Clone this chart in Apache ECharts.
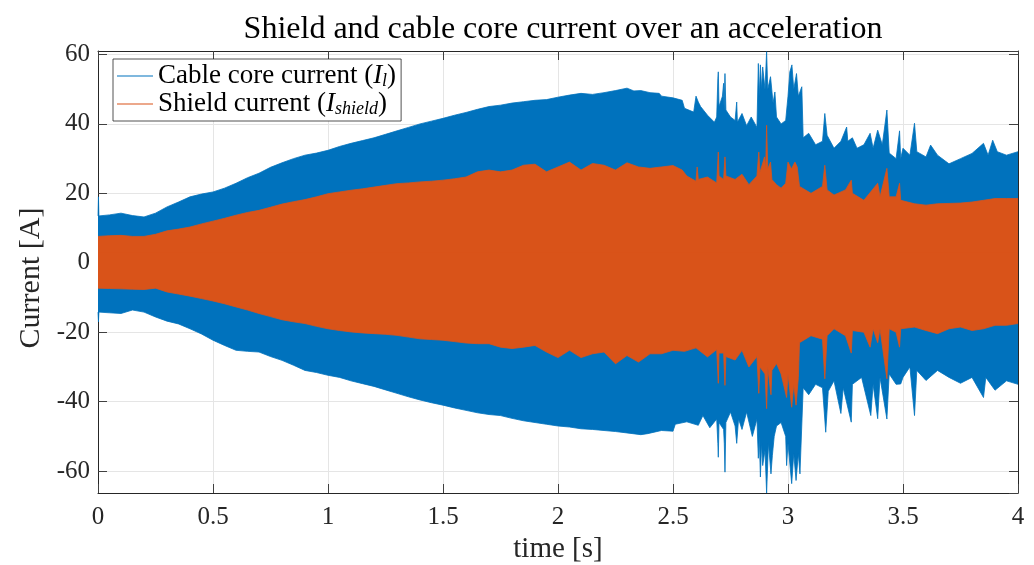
<!DOCTYPE html>
<html>
<head>
<meta charset="utf-8">
<script src="https://cdn.jsdelivr.net/npm/echarts@6/dist/echarts.min.js"></script>
<style>
html,body{margin:0;padding:0;background:#fff;}
#c{width:1034px;height:565px;}
</style>
</head>
<body>
<div id="c"></div>
<script>
// ---- data (time [s], current [A]) ----
var xTicks = [0, 0.5, 1, 1.5, 2, 2.5, 3, 3.5, 4];
var yTicks = [-60, -40, -20, 0, 20, 40, 60];

var blueUpper = [[0,13.5],[0.002,19],[0.004,13.5],[0.05,13.8],[0.1,14.3],[0.15,13.6],[0.2,13.2],[0.25,14.3],[0.3,16.1],[0.35,17.5],[0.4,19],[0.45,19.8],[0.5,20.4],[0.55,21.5],[0.6,22.9],[0.65,24.5],[0.7,25.8],[0.75,27.5],[0.8,28.8],[0.85,30],[0.9,31],[0.95,31.6],[1.0,32.4],[1.05,33.5],[1.1,34.4],[1.15,35.2],[1.2,36],[1.25,37],[1.3,38],[1.35,39],[1.4,40],[1.45,40.8],[1.5,41.6],[1.55,42.5],[1.6,43.3],[1.65,44.2],[1.7,45],[1.75,45.4],[1.8,46],[1.85,46.4],[1.9,46.8],[1.95,47],[2.0,47.7],[2.05,48.3],[2.1,48.8],[2.15,48.5],[2.2,49],[2.25,49.6],[2.3,50.3],[2.33,49.5],[2.36,49.6],[2.4,49],[2.44,48.8],[2.45,48],[2.5,47.5],[2.54,46.8],[2.55,44.5],[2.59,43.4],[2.6,48],[2.61,46.3],[2.62,45],[2.65,42.5],[2.68,40.5],[2.69,42],[2.695,53],[2.697,55],[2.70,45],[2.715,48],[2.72,51.7],[2.722,44],[2.726,54.5],[2.73,44],[2.75,42],[2.77,41],[2.777,46.3],[2.78,40.5],[2.8,43],[2.82,39.5],[2.84,42],[2.865,39],[2.871,57.4],[2.875,48],[2.88,57],[2.885,50],[2.89,56.4],[2.9,50],[2.907,60.8],[2.912,50],[2.924,53.6],[2.935,46],[2.943,49.2],[2.95,42],[2.97,40],[2.99,41],[3.0,48],[3.008,55],[3.017,57],[3.025,50],[3.037,54.5],[3.045,48],[3.06,50.7],[3.066,36],[3.09,37.3],[3.12,34],[3.15,35],[3.16,43],[3.17,36.7],[3.2,33],[3.23,35],[3.255,39.1],[3.26,35],[3.28,36],[3.3,33],[3.33,34],[3.357,37.3],[3.37,33],[3.39,38.2],[3.41,34],[3.43,44],[3.44,31.6],[3.47,30],[3.485,38],[3.49,30],[3.5,33],[3.53,31],[3.55,40.2],[3.56,32],[3.6,30.5],[3.62,33.9],[3.65,31],[3.7,28.5],[3.75,30],[3.8,31.5],[3.85,34.4],[3.87,31],[3.89,35.3],[3.91,32],[3.95,31],[4.0,32]];

var blueLower = [[0,-14.2],[0.002,-17],[0.004,-14.2],[0.05,-14.4],[0.1,-14.6],[0.15,-13.6],[0.2,-14.2],[0.25,-15.6],[0.3,-16.8],[0.35,-17.6],[0.4,-19],[0.45,-20.5],[0.5,-22.3],[0.55,-23.8],[0.6,-25.2],[0.65,-25.5],[0.7,-25.7],[0.75,-27],[0.8,-28.1],[0.85,-29.5],[0.9,-31],[0.95,-31.6],[1.0,-32.4],[1.05,-33],[1.1,-34],[1.15,-34.8],[1.2,-35.6],[1.25,-36.6],[1.3,-37.6],[1.35,-38.6],[1.4,-39.5],[1.45,-40.3],[1.5,-41],[1.55,-41.8],[1.6,-42.5],[1.65,-43.2],[1.7,-43.7],[1.75,-44],[1.8,-44.8],[1.85,-45.5],[1.9,-46],[1.95,-46.5],[2.0,-47],[2.05,-47.3],[2.1,-47.8],[2.15,-48],[2.2,-48.3],[2.25,-48.6],[2.3,-49],[2.36,-49.5],[2.39,-49.2],[2.45,-48.3],[2.5,-48.5],[2.51,-46.5],[2.56,-45.8],[2.61,-46.8],[2.63,-44],[2.66,-47.5],[2.69,-45],[2.695,-52],[2.697,-56],[2.70,-46],[2.72,-48],[2.723,-52],[2.726,-60.3],[2.73,-46],[2.75,-43],[2.77,-47],[2.777,-52],[2.785,-45],[2.8,-48],[2.82,-43],[2.845,-50],[2.865,-45],[2.871,-56.3],[2.875,-50],[2.88,-61.7],[2.885,-52],[2.89,-58.4],[2.9,-54],[2.907,-66.3],[2.915,-52],[2.926,-60.8],[2.932,-55.5],[2.94,-50],[2.95,-47],[2.97,-46],[2.99,-50],[2.994,-58.4],[3.0,-52],[3.016,-63.6],[3.025,-55],[3.035,-62.7],[3.045,-55],[3.052,-60.8],[3.066,-36],[3.09,-38],[3.12,-35],[3.15,-36],[3.164,-48.8],[3.175,-37],[3.2,-34],[3.23,-43.4],[3.24,-36],[3.275,-45.9],[3.28,-35],[3.32,-33],[3.36,-44],[3.37,-35],[3.39,-44.9],[3.4,-33],[3.43,-45],[3.44,-32],[3.47,-35],[3.49,-34.9],[3.5,-33],[3.53,-30],[3.55,-44],[3.56,-31],[3.6,-33.9],[3.65,-31],[3.7,-33],[3.75,-34.7],[3.8,-33],[3.85,-38.8],[3.86,-33],[3.9,-36.7],[3.95,-34],[4.0,-35]];

var orangeUpper = [[0,7.6],[0.05,7.8],[0.1,7.9],[0.15,7.6],[0.2,7.6],[0.25,8.2],[0.3,9.2],[0.35,9.7],[0.4,10.3],[0.45,11.2],[0.5,12],[0.55,12.8],[0.6,13.7],[0.65,14.5],[0.7,15.1],[0.75,16],[0.8,16.9],[0.85,17.6],[0.9,18.2],[0.95,19],[1.0,19.9],[1.05,20.4],[1.1,20.9],[1.15,21.3],[1.2,21.8],[1.25,22.3],[1.3,22.8],[1.35,23],[1.4,23.3],[1.45,23.5],[1.5,23.8],[1.55,24.2],[1.6,24.7],[1.65,26.2],[1.7,26.7],[1.75,26.2],[1.8,26.7],[1.85,28.1],[1.9,28.4],[1.95,26.2],[2.0,27.6],[2.05,29],[2.1,26.7],[2.15,28.6],[2.2,28.1],[2.25,26.7],[2.3,28.8],[2.35,27.6],[2.4,27.2],[2.45,27.6],[2.5,28],[2.54,26.7],[2.56,25],[2.6,23.5],[2.605,27.6],[2.61,24],[2.65,24.7],[2.69,23],[2.697,31.9],[2.70,25],[2.72,24],[2.726,30.5],[2.73,25],[2.77,24],[2.8,25.5],[2.83,22.5],[2.865,25],[2.873,31.9],[2.878,26],[2.898,30.5],[2.903,27],[2.907,39.6],[2.912,27],[2.924,29],[2.93,24],[2.95,22.5],[2.97,21.5],[2.99,22.9],[3.0,29],[3.015,27],[3.03,29],[3.04,27.6],[3.05,22],[3.1,20],[3.15,22],[3.16,28.1],[3.17,21],[3.2,19.5],[3.25,21],[3.275,23.8],[3.28,20],[3.33,18],[3.39,22.9],[3.4,19],[3.43,27.2],[3.44,19],[3.47,19],[3.485,22.9],[3.49,18],[3.55,17],[3.6,16.6],[3.65,17],[3.7,17.1],[3.75,17.2],[3.8,17.5],[3.85,18],[3.9,18.5],[3.95,18.5],[4.0,18.5]];

var orangeLower = [[0,-7.3],[0.05,-7.4],[0.1,-7.5],[0.15,-7.6],[0.2,-7.7],[0.25,-7.3],[0.3,-8.4],[0.35,-9],[0.4,-9.6],[0.45,-10.3],[0.5,-11],[0.55,-11.8],[0.6,-12.7],[0.65,-13.6],[0.7,-14.6],[0.75,-15.5],[0.8,-16.4],[0.85,-17],[0.9,-17.5],[0.95,-18.3],[1.0,-19],[1.05,-19.5],[1.1,-19.9],[1.15,-20.2],[1.2,-20.4],[1.25,-20.6],[1.3,-20.9],[1.35,-21.4],[1.4,-21.9],[1.45,-22.1],[1.5,-22.3],[1.55,-22.7],[1.6,-23.1],[1.65,-23.3],[1.7,-23.3],[1.75,-24.3],[1.8,-24.7],[1.85,-24.3],[1.9,-23.8],[1.95,-25.7],[2.0,-27.3],[2.05,-25.2],[2.1,-27.3],[2.15,-26.2],[2.2,-25.7],[2.25,-29.1],[2.3,-26.7],[2.35,-28.6],[2.4,-26.2],[2.45,-26.2],[2.5,-25.2],[2.55,-25.5],[2.6,-24.5],[2.65,-27.1],[2.69,-25],[2.697,-34.7],[2.70,-26],[2.72,-26],[2.726,-35.3],[2.73,-27],[2.77,-28],[2.8,-25.2],[2.83,-30],[2.865,-27],[2.873,-37.6],[2.878,-30],[2.9,-32],[2.907,-42],[2.912,-30],[2.926,-38],[2.93,-31],[2.95,-29],[2.97,-32],[2.994,-38.8],[3.0,-32],[3.016,-41.6],[3.025,-35],[3.035,-41],[3.045,-33],[3.05,-23],[3.1,-21],[3.15,-22],[3.16,-33.4],[3.17,-21],[3.2,-19],[3.25,-21],[3.275,-26],[3.28,-19.5],[3.33,-20],[3.357,-24.3],[3.37,-19],[3.39,-23],[3.4,-19],[3.43,-33.4],[3.44,-19],[3.47,-20],[3.485,-24.3],[3.49,-19],[3.55,-18.5],[3.6,-19.5],[3.65,-20.4],[3.7,-19],[3.75,-18.5],[3.8,-19.5],[3.85,-19],[3.9,-18],[3.95,-18],[4.0,-17.5]];

var seriesNames = ['Cable core current', 'Shield current'];
var BLUE = '#0072BD', ORANGE = '#D95319';

// ---- chart ----
var FONT = 'Liberation Serif';
var TXT = '#262626';
var chart = echarts.init(document.getElementById('c'), null, {renderer: 'canvas'});

// upper halves fill down past zero and lower halves fill up past zero,
// so the two halves of each band overlap and leave no seam at 0
function bandSeries(name, data, color, z, origin) {
  return {
    name: name, type: 'line', data: data,
    xAxisIndex: 0, yAxisIndex: 0,
    showSymbol: false, symbol: 'none', silent: true, animation: false,
    lineStyle: {color: color, width: 0.8},
    itemStyle: {color: color},
    areaStyle: {color: color, opacity: 1, origin: origin},
    z: z
  };
}

var axisCommonX = {type: 'value', min: 0, max: 4, interval: 0.5};

var option = {
  backgroundColor: '#fff',
  animation: false,
  title: {
    text: 'Shield and cable core current over an acceleration',
    left: 558, top: 9, textAlign: 'center',
    textStyle: {fontFamily: FONT, fontSize: 32, fontWeight: 'normal', color: '#000'}
  },
  legend: {
    orient: 'vertical', left: 113, top: 59,
    backgroundColor: '#fff',
    borderColor: '#262626', borderWidth: 0.8, borderRadius: 0,
    padding: [3, 5, 3, 4], itemGap: 0,
    itemWidth: 36, itemHeight: 1.2,
    data: [
      {name: seriesNames[0], icon: 'rect', itemStyle: {color: BLUE}},
      {name: seriesNames[1], icon: 'rect', itemStyle: {color: ORANGE}}
    ],
    formatter: function (n) {
      return n === seriesNames[0] ? 'Cable core current ({i|I}{s|l})' : 'Shield current ({i|I}{s|shield})';
    },
    textStyle: {
      fontFamily: FONT, fontSize: 27, color: '#000', lineHeight: 28,
      rich: {
        i: {fontFamily: FONT, fontSize: 27, fontStyle: 'italic', color: '#000', lineHeight: 28},
        s: {fontFamily: FONT, fontSize: 18, fontStyle: 'italic', color: '#000', lineHeight: 18, verticalAlign: 'bottom'}
      }
    },
    z: 20
  },
  grid: {left: 98, right: 16, top: 51, bottom: 72, containLabel: false, outerBoundsMode: 'none'},
  xAxis: [
    Object.assign({}, axisCommonX, {
      position: 'bottom',
      name: 'time [s]', nameLocation: 'middle', nameGap: 38,
      nameTextStyle: {fontFamily: FONT, fontSize: 29, color: TXT},
      axisLine: {show: true, onZero: false, lineStyle: {color: '#262626', width: 1}},
      axisTick: {show: true, inside: true, length: 9, lineStyle: {color: '#404040', width: 1}},
      axisLabel: {show: true, margin: 12, fontFamily: FONT, fontSize: 25, color: TXT,
        formatter: function (v) { return xTicks.indexOf(v) >= 0 ? String(v) : ''; }},
      splitLine: {show: true, lineStyle: {color: '#e5e5e5', width: 1}}
    }),
    Object.assign({}, axisCommonX, {
      position: 'top',
      axisLine: {show: true, onZero: false, lineStyle: {color: '#262626', width: 1}},
      axisTick: {show: true, inside: true, length: 9, lineStyle: {color: '#404040', width: 1}},
      axisLabel: {show: false},
      splitLine: {show: false}
    })
  ],
  yAxis: [
    {
      type: 'value', min: -66.3, max: 61, splitNumber: 6, position: 'left',
      name: 'Current [A]', nameLocation: 'middle', nameGap: 50, nameRotate: 90,
      nameTextStyle: {fontFamily: FONT, fontSize: 30, color: TXT, padding: [0, 12, 0, 0]},
      axisLine: {show: true, onZero: false, lineStyle: {color: '#262626', width: 1}},
      axisTick: {show: true, inside: true, length: 9, lineStyle: {color: '#404040', width: 1}},
      axisLabel: {show: true, margin: 8, fontFamily: FONT, fontSize: 25, color: TXT,
        showMinLabel: false, showMaxLabel: false,
        formatter: function (v) { return yTicks.indexOf(v) >= 0 ? String(v) : ''; }},
      splitLine: {show: true, lineStyle: {color: '#e5e5e5', width: 1}}
    },
    {
      type: 'value', min: -66.3, max: 61, splitNumber: 6, position: 'right',
      axisLine: {show: true, onZero: false, lineStyle: {color: '#262626', width: 1}},
      axisTick: {show: true, inside: true, length: 9, lineStyle: {color: '#404040', width: 1}},
      axisLabel: {show: false},
      splitLine: {show: false}
    }
  ],
  series: [
    bandSeries(seriesNames[0], blueUpper, BLUE, 2, -5),
    bandSeries(seriesNames[0], blueLower, BLUE, 2, 5),
    bandSeries(seriesNames[1], orangeUpper, ORANGE, 3, -3),
    bandSeries(seriesNames[1], orangeLower, ORANGE, 3, 3)
  ]
};
chart.setOption(option);
</script>
</body>
</html>
